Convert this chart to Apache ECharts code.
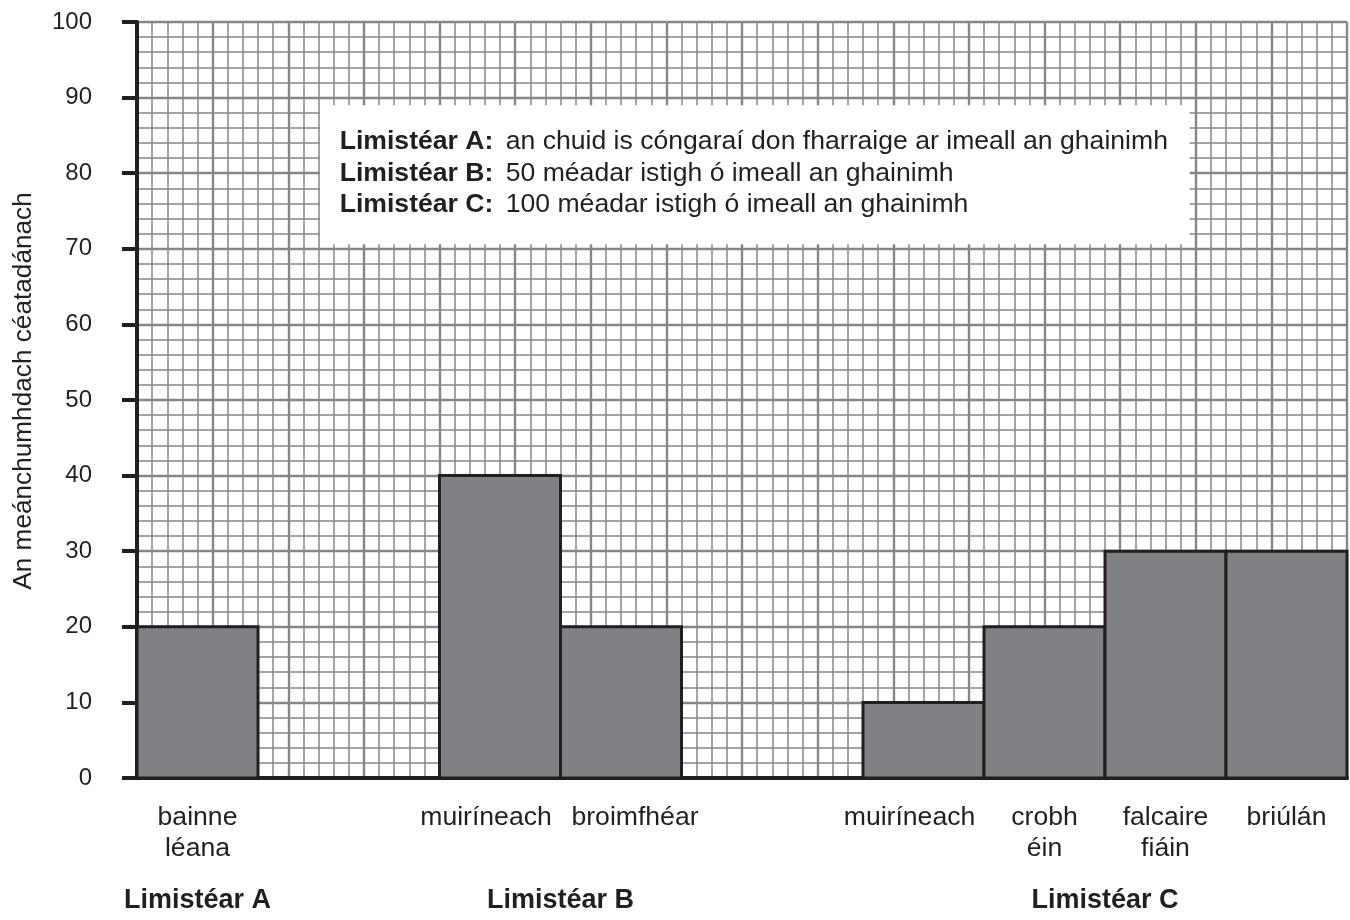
<!DOCTYPE html>
<html><head><meta charset="utf-8">
<script src="https://cdn.jsdelivr.net/npm/echarts@6/dist/echarts.min.js"></script>
<style>html,body{margin:0;padding:0;background:#fff}#c{width:1350px;height:920px}</style>
</head><body><div id="c"></div>
<script>
const categories = ['bainne\nléana', 'muiríneach', 'broimfhéar', 'muiríneach', 'crobh\néin', 'falcaire\nfiáin', 'briúlán'];
const values = [20, 40, 20, 10, 20, 30, 30];
const barStart = [0, 20, 28, 48, 56, 64, 72];   // place along the transect, in grid squares
const barSpan = 8;                              // squares per bar
const zones = ['Limistéar A', 'Limistéar B', 'Limistéar C'];
const zoneCenter = [4, 28, 64];
const noteKeys = ['Limistéar A:', 'Limistéar B:', 'Limistéar C:'];
const noteTexts = ['an chuid is cóngaraí don fharraige ar imeall an ghainimh', '50 méadar istigh ó imeall an ghainimh', '100 méadar istigh ó imeall an ghainimh'];
const yAxisName = 'An meánchumhdach céatadánach';

const FONT = '"Liberation Sans", Arial, Helvetica, sans-serif';
const INK = '#231f20';
const GRIDC = '#858688';
// small horizontal nudges of some category labels (px, as in the original print)
const labelNudge = {1: -14, 2: 14, 3: -12};

const chart = echarts.init(document.getElementById('c'), null, {renderer: 'canvas'});
const option = {
  animation: false,
  backgroundColor: '#fff',
  grid: {left: 137, right: 3, top: 22, bottom: 142, containLabel: false},
  xAxis: [
    {
      type: 'value', min: 0, max: 80, interval: 5,
      axisLine: {show: true, lineStyle: {color: INK, width: 4}},
      axisTick: {show: false}, axisLabel: {show: false},
      splitLine: {show: true, lineStyle: {color: GRIDC, width: 2.4}},
      minorTick: {show: false, splitNumber: 5},
      minorSplitLine: {show: true, lineStyle: {color: GRIDC, width: 1.5}}
    },
    {
      type: 'value', min: 0, max: 80, interval: 4, position: 'bottom',
      axisLine: {show: false}, axisTick: {show: false}, splitLine: {show: false},
      axisLabel: {
        show: true, margin: 24, fontSize: 26.6, lineHeight: 31, color: INK, fontFamily: FONT,
        formatter: (v) => {
          const i = barStart.findIndex(s => s + barSpan / 2 === v);
          if (i < 0) return '';
          const d = labelNudge[i];
          if (!d) return categories[i];
          return (d < 0 ? '{r|' : '{l|') + categories[i] + '}';
        },
        rich: {
          r: {fontSize: 26.6, color: INK, fontFamily: FONT, padding: [0, 28, 0, 0]},
          l: {fontSize: 26.6, color: INK, fontFamily: FONT, padding: [0, 0, 0, 28]}
        }
      }
    },
    {
      type: 'value', min: 0, max: 80, interval: 4, position: 'bottom',
      axisLine: {show: false}, axisTick: {show: false}, splitLine: {show: false},
      axisLabel: {
        show: true, margin: 108, fontSize: 27, lineHeight: 30, fontWeight: 'bold', color: INK, fontFamily: FONT,
        formatter: (v) => { const i = zoneCenter.indexOf(v); return i >= 0 ? zones[i] : ''; }
      }
    }
  ],
  yAxis: {
    type: 'value', min: 0, max: 100, interval: 10,
    name: yAxisName, nameLocation: 'middle', nameGap: 100, nameRotate: 90,
    nameTextStyle: {fontSize: 26.2, color: INK, fontFamily: FONT, padding: [0, 0, 0, 18]},
    axisLine: {show: true, lineStyle: {color: INK, width: 4}},
    axisTick: {show: true, inside: false, length: 15, lineStyle: {color: INK, width: 4}},
    axisLabel: {show: true, margin: 45, fontSize: 24, color: INK, fontFamily: FONT},
    splitLine: {show: true, lineStyle: {color: GRIDC, width: 2.4}},
    minorTick: {show: false, splitNumber: 5},
    minorSplitLine: {show: true, lineStyle: {color: GRIDC, width: 1.5}}
  },
  series: [
    {
      type: 'custom', xAxisIndex: 0, yAxisIndex: 0, z: 3, silent: true,
      data: barStart.map((s, i) => [s, s + barSpan, values[i]]),
      encode: {x: [0, 1], y: 2},
      renderItem: (params, api) => {
        const p0 = api.coord([api.value(0), api.value(2)]);
        const p1 = api.coord([api.value(1), 0]);
        return {
          type: 'rect',
          shape: {x: p0[0], y: p0[1], width: p1[0] - p0[0], height: p1[1] - p0[1]},
          style: {fill: '#808184', stroke: INK, lineWidth: 3}
        };
      }
    },
    {
      type: 'custom', xAxisIndex: 0, yAxisIndex: 0, z: 4, silent: true,
      data: [[40, 80]],
      renderItem: (params, api) => {
        const a = api.coord([12.1, 89.0]);
        const b = api.coord([69.6, 70.6]);
        const t = api.coord([13.4, 79.95]);
        const txt = noteKeys.map((k, i) => '{b|' + k + '}{n|' + noteTexts[i] + '}').join('\n');
        return {
          type: 'group',
          children: [
            {type: 'rect', shape: {x: a[0], y: a[1], width: b[0] - a[0], height: b[1] - a[1]}, style: {fill: '#ffffff'}},
            {type: 'text', x: t[0], y: t[1], style: {
              text: txt, verticalAlign: 'middle', align: 'left', fill: INK,
              fontSize: 26.6, fontFamily: FONT, lineHeight: 31.5,
              rich: {
                b: {fontWeight: 'bold', fontSize: 26.6, fontFamily: FONT, fill: INK, width: 166, lineHeight: 31.5},
                n: {fontSize: 26.6, fontFamily: FONT, fill: INK, lineHeight: 31.5}
              }
            }}
          ]
        };
      }
    }
  ]
};
chart.setOption(option);
</script>
</body></html>
